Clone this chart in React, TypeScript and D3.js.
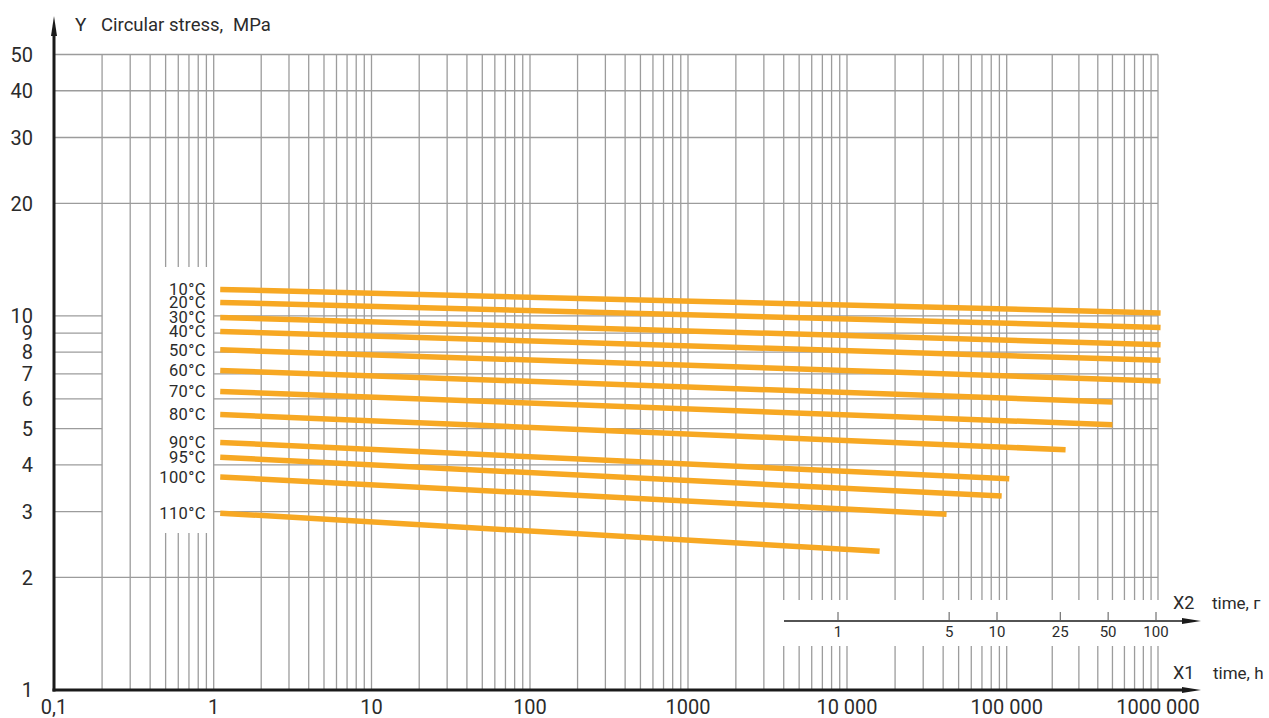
import * as d3 from "d3";
import React, { useRef, useEffect } from "react";

// temperature curves (stress in MPa, time in hours)
const temps = ["10°C", "20°C", "30°C", "40°C", "50°C", "60°C", "70°C", "80°C", "90°C", "95°C", "100°C", "110°C"];
const startHours = [1.1, 1.1, 1.1, 1.1, 1.1, 1.1, 1.1, 1.1, 1.1, 1.1, 1.1, 1.1];
const endHours = [1.04e6, 1.04e6, 1.04e6, 1.04e6, 1.04e6, 5e5, 5e5, 2.45e5, 1.04e5, 9.3e4, 4.2e4, 1.6e4];
const startStress = [11.77, 10.87, 9.91, 9.09, 8.12, 7.15, 6.28, 5.45, 4.59, 4.19, 3.71, 2.97];
const endStress = [10.19, 9.32, 8.38, 7.61, 6.7, 5.89, 5.12, 4.39, 3.67, 3.3, 2.95, 2.35];

const xDecades = [0.1, 1, 10, 100, 1000, 10000, 100000, 1000000];
const xTickLabels = ["0,1", "1", "10", "100", "1000", "10 000", "100 000", "1000 000"];
const yTicks = [1, 2, 3, 4, 5, 6, 7, 8, 9, 10, 20, 30, 40, 50];
const yFullGrid = [2, 20, 30, 40, 50];
const yShortGrid = [3, 4, 5, 6, 7, 8, 9, 10];
const yearTicks = [1, 5, 10, 25, 50, 100];

const ORANGE = "#f7a823";
const GRID = "#9c9c9c";
const INK = "#2b2b2b";

export default function App() {
  const ref = useRef<SVGSVGElement>(null);

  useEffect(() => {
    document.body.style.margin = "0";
    const svg = d3.select(ref.current);
    svg.selectAll("*").remove();

    // the printed scale is not perfectly even, so map each decade on its own
    const x = d3
      .scaleLog()
      .domain(xDecades)
      .range([54, 213.7, 371.5, 530, 688, 847, 1006.7, 1158]);
    const y = d3.scaleLog().domain([1, 50]).range([690, 54.5]);
    const x2 = d3.scaleLog().domain([1, 100]).range([838, 1156]);

    const font = "Roboto, 'DejaVu Sans', sans-serif";
    const top = y(50);

    // vertical grid: every 1..9 step of every decade
    const minor: number[] = [];
    xDecades.slice(0, -1).forEach((d) => {
      for (let i = 1; i <= 9; i++) minor.push(d * i);
    });
    minor.push(1e6);
    const grid = svg.append("g").attr("stroke", GRID).attr("stroke-width", 1.3);
    grid
      .selectAll("line.v")
      .data(minor.filter((v) => v > 0.1))
      .join("line")
      .attr("x1", (d) => x(d))
      .attr("x2", (d) => x(d))
      .attr("y1", top)
      .attr("y2", y(1));

    grid
      .selectAll("line.hf")
      .data(yFullGrid)
      .join("line")
      .attr("x1", x(0.1))
      .attr("x2", x(1e6))
      .attr("y1", (d) => y(d))
      .attr("y2", (d) => y(d));

    // 3..10 lines are broken where the temperature labels sit
    yShortGrid.forEach((v) => {
      grid.append("line").attr("x1", x(0.1)).attr("x2", x(0.2)).attr("y1", y(v)).attr("y2", y(v));
      grid.append("line").attr("x1", x(1)).attr("x2", x(1e6)).attr("y1", y(v)).attr("y2", y(v));
    });

    // white gaps: label column and the X2 band
    svg.append("rect").attr("x", 156).attr("y", 267).attr("width", 54).attr("height", 266).attr("fill", "#fff");
    svg.append("rect").attr("x", 783).attr("y", 600).attr("width", 420).attr("height", 46).attr("fill", "#fff");

    // curves
    svg
      .append("g")
      .selectAll("line")
      .data(temps)
      .join("line")
      .attr("x1", (_, i) => x(startHours[i]))
      .attr("y1", (_, i) => y(startStress[i]))
      .attr("x2", (_, i) => x(endHours[i]))
      .attr("y2", (_, i) => y(endStress[i]))
      .attr("stroke", ORANGE)
      .attr("stroke-width", 5.5);

    svg
      .append("g")
      .attr("font-family", font)
      .attr("font-size", 16.5)
      .attr("fill", INK)
      .attr("text-anchor", "end")
      .attr("letter-spacing", 0.4)
      .selectAll("text")
      .data(temps)
      .join("text")
      .attr("x", 206)
      .attr("y", (_, i) => y(startStress[i]))
      .attr("dy", "0.36em")
      .text((d) => d);

    // axes
    const axis = svg.append("g").attr("stroke", "#1a1a1a").attr("fill", "#1a1a1a");
    axis.append("line").attr("x1", x(0.1)).attr("x2", x(0.1)).attr("y1", y(1) + 1.5).attr("y2", 30).attr("stroke-width", 3);
    axis.append("path").attr("d", `M${x(0.1) - 3},36 L${x(0.1)},16 L${x(0.1) + 3},36 Z`).attr("stroke", "none");
    axis.append("line").attr("x1", x(0.1) - 1.5).attr("x2", 1186).attr("y1", y(1)).attr("y2", y(1)).attr("stroke-width", 3);
    axis.append("path").attr("d", `M1182,${y(1) - 3} L1201,${y(1)} L1182,${y(1) + 3} Z`).attr("stroke", "none");

    const x2y = 621;
    axis.append("line").attr("x1", 784).attr("x2", 1186).attr("y1", x2y).attr("y2", x2y).attr("stroke-width", 1.5);
    axis.append("path").attr("d", `M1182,${x2y - 3} L1201,${x2y} L1182,${x2y + 3} Z`).attr("stroke", "none");
    axis
      .selectAll("line.t2")
      .data(yearTicks)
      .join("line")
      .attr("x1", (d) => x2(d))
      .attr("x2", (d) => x2(d))
      .attr("y1", x2y - 9)
      .attr("y2", x2y)
      .attr("stroke-width", 1)
      .attr("stroke", "#555");

    const txt = svg.append("g").attr("font-family", font).attr("fill", INK);
    txt
      .selectAll("text.y2")
      .data(yearTicks)
      .join("text")
      .attr("x", (d) => x2(d))
      .attr("y", 637)
      .attr("text-anchor", "middle")
      .attr("font-size", 15)
      .text((d) => d);

    txt
      .selectAll("text.xt")
      .data(xDecades)
      .join("text")
      .attr("x", (d) => x(d))
      .attr("y", 714)
      .attr("text-anchor", "middle")
      .attr("font-size", 20)
      .text((_, i) => xTickLabels[i]);

    txt
      .selectAll("text.yt")
      .data(yTicks)
      .join("text")
      .attr("x", 33)
      .attr("y", (d) => y(d))
      .attr("dy", "0.36em")
      .attr("text-anchor", "end")
      .attr("font-size", 20)
      .text((d) => d);

    // axis names
    txt.append("text").attr("x", 75).attr("y", 31).attr("font-size", 19).text("Y");
    txt.append("text").attr("x", 101).attr("y", 31).attr("font-size", 18.5).text("Circular stress,");
    txt.append("text").attr("x", 233).attr("y", 31).attr("font-size", 18.5).text("MPa");
    txt.append("text").attr("x", 1173).attr("y", 609).attr("font-size", 18).text("X2");
    txt.append("text").attr("x", 1212).attr("y", 609).attr("font-size", 17).text("time, г");
    txt.append("text").attr("x", 1173).attr("y", 679).attr("font-size", 18).text("X1");
    txt.append("text").attr("x", 1213).attr("y", 679).attr("font-size", 17).text("time, h");
  }, []);

  return <svg ref={ref} width={1269} height={718} style={{ display: "block", background: "#fff" }} />;
}
